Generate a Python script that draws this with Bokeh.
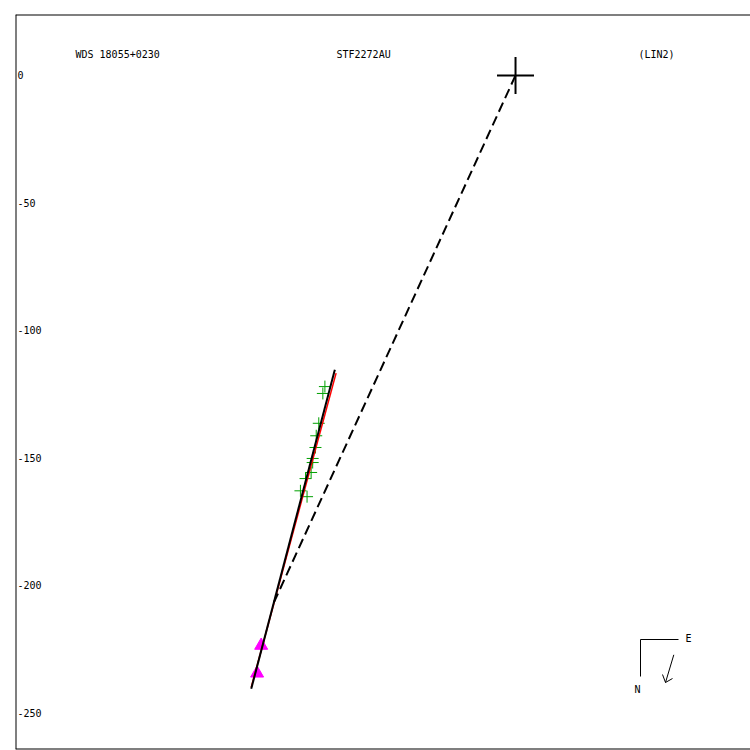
from bokeh.plotting import figure
from bokeh.models import Range1d, Span
from bokeh.core.properties import value
from bokeh.embed import file_html
from bokeh.resources import INLINE

# ---- data ----
obs_x = [-74.8, -75.6, -77.2, -78.2, -78.5, -79.6, -79.6, -80.2, -82.4, -84.4, -81.8]
obs_y = [-122.1, -124.8, -136.5, -141.4, -146.0, -150.3, -151.9, -155.8, -158.2, -163.0, -165.3]
tri_x = [-99.8, -101.4]
tri_y = [-223.7, -234.6]
fit_x = [-70.4, -103.7]          # red linear fit
fit_y = [-116.8, -240.1]
path_x = [-70.9, -103.7]         # black solid line
path_y = [-115.5, -240.7]
dash_x = [0.0, -95.0]            # primary to point on line
dash_y = [0.0, -207.2]
primary_x = [0.0]
primary_y = [0.0]
ytick_vals = [0, -50, -100, -150, -200, -250]
ytick_labels = ["0", "-50", "-100", "-150", "-200", "-250"]
title_left = "WDS 18055+0230"
title_mid = "STF2272AU"
title_right = "(LIN2)"

# ---- geometry helpers ----
X0, X1 = -196.2, 92.2
Y0, Y1 = -264.5, 23.9
FW = 735
SCALE = FW / (X1 - X0)


def px(xp, yp):
    """Convert window pixel position to data coordinates (for decorations)."""
    return (X0 + (xp - 15) / SCALE, Y1 - (yp - 14) / SCALE)


p = figure(frame_width=FW, frame_height=FW,
           x_range=Range1d(X0, X1), y_range=Range1d(Y0, Y1),
           x_axis_location=None, y_axis_location=None,
           min_border_left=15, min_border_right=0,
           min_border_top=14, min_border_bottom=1,
           output_backend="svg", toolbar_location=None)
p.xgrid.visible = False
p.ygrid.visible = False
p.outline_line_color = None
p.background_fill_color = "white"
p.border_fill_color = "white"

# frame border on top, left and bottom (right edge lies outside the window)
for loc, dim in [(Y1, "width"), (Y0, "width"), (X0, "height")]:
    p.add_layout(Span(location=loc, dimension=dim, line_color="black", line_width=2))

FONT = value("DejaVu Sans Mono")

# observations
p.scatter(obs_x, obs_y, marker="cross", size=12, line_color="#00a000", line_width=1)
p.scatter(tri_x, tri_y, marker="triangle", size=13, fill_color="#ff00ff",
          line_color="#ff00ff")

# lines
p.line(fit_x, fit_y, line_color="red", line_width=1.5)
p.line(path_x, path_y, line_color="black", line_width=2)
p.line(dash_x, dash_y, line_color="black", line_width=2, line_dash="10 5")

# primary
p.scatter(primary_x, primary_y, marker="cross", size=37, line_color="black", line_width=2)

# tick labels inside frame
tx = [px(17, 0)[0]] * len(ytick_vals)
p.text(tx, ytick_vals, text=ytick_labels, text_font=FONT, text_font_size="10px",
       text_baseline="middle", text_align="left", text_color="black")

# titles
for xp, t in [(75, title_left), (336, title_mid), (638, title_right)]:
    x, y = px(xp, 54)
    p.text([x], [y], text=[t], text_font=FONT, text_font_size="10px",
           text_baseline="middle", text_align="left", text_color="black")

# compass
cx, cy = px(640, 639)
ex, _ = px(678, 639)
_, ny = px(640, 676)
p.line([ex, cx, cx], [cy, cy, ny], line_color="black", line_width=1)
x, y = px(685, 638)
p.text([x], [y], text=["E"], text_font=FONT, text_font_size="10px",
       text_baseline="middle", text_align="left", text_color="black")
x, y = px(637, 689)
p.text([x], [y], text=["N"], text_font=FONT, text_font_size="10px",
       text_baseline="middle", text_align="center", text_color="black")
a0 = px(673.3, 654.3)
a1 = px(665, 682)
h1 = px(662, 674)
h2 = px(672, 678)
p.line([a0[0], a1[0]], [a0[1], a1[1]], line_color="black", line_width=1)
p.line([h1[0], a1[0], h2[0]], [h1[1], a1[1], h2[1]], line_color="black", line_width=1)

open("out.html", "w").write(file_html(p, INLINE))
